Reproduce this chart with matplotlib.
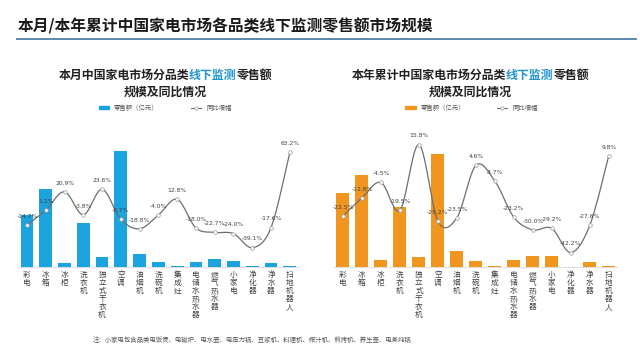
import numpy as np
import matplotlib
matplotlib.use("Agg")
import matplotlib.pyplot as plt
from matplotlib.lines import Line2D
from matplotlib.patches import Patch

plt.rcParams['font.family'] = ['Noto Sans CJK SC', 'DejaVu Sans']

categories = ["彩电", "冰箱", "冰柜", "洗衣机", "独立式干衣机", "空调", "油烟机", "洗碗机",
              "集成灶", "电储水热水器", "燃气热水器", "小家电", "净化器", "净水器", "扫地机器人"]

month_sales = [45, 67, 3.5, 38, 8.5, 100, 11, 4.3, 1.3, 4.5, 7.2, 5.2, 0.8, 3.6, 1.3]
month_yoy = [-14.7, 1.2, 20.9, -3.8, 23.6, -8.7, -18.8, -4.0, 12.8, -18.0, -22.7, -24.0, -39.1, -17.6, 63.2]

year_sales = [65, 81, 6.2, 53, 9, 100, 14, 5.3, 1.0, 6.2, 9.7, 9.7, 0.5, 4.4, 1.0]
year_yoy = [-22.5, -12.8, -4.5, -19.5, 15.8, -25.2, -23.5, 4.6, -3.7, -23.2, -30.0, -29.2, -42.2, -27.6, 9.8]

BLUE = "#1aa3dd"
ORANGE = "#f0961e"
LINE = "#6e6e6e"


def smooth(x, y, n=20):
    x = np.asarray(x, float)
    y = np.asarray(y, float)
    P = np.column_stack([x, y])
    P = np.vstack([P[0], P, P[-1]])
    out = []
    for i in range(1, len(P) - 2):
        p0, p1, p2, p3 = P[i - 1], P[i], P[i + 1], P[i + 2]
        t = np.linspace(0, 1, n, endpoint=False)[:, None]
        seg = 0.5 * ((2 * p1) + (-p0 + p2) * t + (2 * p0 - 5 * p1 + 4 * p2 - p3) * t ** 2
                     + (-p0 + 3 * p1 - 3 * p2 + p3) * t ** 3)
        out.append(seg)
    out.append(P[-2][None, :])
    out = np.vstack(out)
    return out[:, 0], out[:, 1]


def panel(rect, sales, yoy, color, ylim_bar, ylim_line, title_pre, title_x, sub_y, leg_x):
    ax = fig.add_axes(rect)
    x = np.arange(len(categories))
    ax.bar(x, sales, width=0.68, color=color, zorder=2)
    ax.set_ylim(*ylim_bar)
    ax.set_xlim(-0.5, len(categories) - 0.5)
    for s in ["top", "right", "left"]:
        ax.spines[s].set_visible(False)
    ax.spines["bottom"].set_color("#d9d9d9")
    ax.spines["bottom"].set_linewidth(0.6)
    ax.set_yticks([])
    ax.set_xticks(x)
    ax.set_xticklabels(["\n".join(c) for c in categories], fontsize=5.5, color="#404040",
                       va="top", linespacing=1.0)
    ax.tick_params(axis="x", length=0, pad=3)

    ax2 = ax.twinx()
    ax2.set_ylim(*ylim_line)
    ax2.axis("off")
    sx, sy = smooth(x, yoy)
    ax2.plot(sx, sy, color=LINE, lw=0.9, zorder=3)
    ax2.plot(x, yoy, ls="none", marker="o", ms=2.6, mfc="white", mec="#9a9a9a", mew=0.5, zorder=4)
    for xi, v in zip(x, yoy):
        ax2.annotate(f"{v:.1f}%", (xi, v), xytext=(0, 4.5), textcoords="offset points",
                     ha="center", va="bottom", fontsize=4.3, color="#404040",
                     family=["DejaVu Sans"], zorder=5)

    t1 = fig.text(0, 0, title_pre, fontsize=8.6, fontweight="bold", color="#222222")
    t2 = fig.text(0, 0, "线下监测", fontsize=8.6, fontweight="bold", color="#1f95d0")
    t3 = fig.text(0, 0, "零售额", fontsize=8.6, fontweight="bold", color="#222222")
    fig.canvas.draw()
    r = fig.canvas.get_renderer()
    w = [t.get_window_extent(r).width for t in (t1, t2, t3)]
    W = fig.bbox.width
    start = title_x * W - sum(w) / 2
    for t, wi in zip((t1, t2, t3), w):
        t.set_position((start / W, sub_y))
        t.set_va("center")
        start += wi
    fig.text(title_x, sub_y - 0.047, "规模及同比情况", fontsize=8.6, fontweight="bold",
             color="#222222", ha="center", va="center")

    handles = [Patch(color=color), Line2D([0], [0], color=LINE, lw=0.8, marker="o", ms=2.4,
                                          mfc="white", mec="#9a9a9a", mew=0.5)]
    fig.legend(handles, ["零售额（亿元）", "同比增幅"], loc="center", bbox_to_anchor=(leg_x, 0.7),
               ncol=2, frameon=False, fontsize=4.6, handlelength=1.6, handleheight=0.35,
               columnspacing=5, labelcolor="#555555")
    return ax


fig = plt.figure(figsize=(6.4, 3.6), dpi=100)
fig.patch.set_facecolor("white")

fig.text(0.028, 0.928, "本月/本年累计中国家电市场各品类线下监测零售额市场规模", fontsize=11.3,
         fontweight="bold", color="#1a1a1a", ha="left", va="center")
fig.add_artist(Line2D([0.026, 0.994], [0.892, 0.892], color="#4f7ea3", lw=1.3))

panel([0.0275, 0.258, 0.44, 0.362], month_sales, month_yoy, BLUE, (0, 112), (-60, 80),
      "本月中国家电市场分品类", 0.258, 0.79, 0.258)
panel([0.521, 0.258, 0.445, 0.362], year_sales, year_yoy, ORANGE, (0, 115), (-50, 20),
      "本年累计中国家电市场分品类", 0.735, 0.79, 0.737)

fig.text(0.145, 0.056, "注：小家电包含品类电饭煲、电磁炉、电水壶、电压力锅、豆浆机、料理机、榨汁机、煎烤机、养生壶、电蒸炖锅",
         fontsize=4.6, color="#555555", ha="left", va="center")

fig.savefig("out.png", dpi=100, facecolor="white")
